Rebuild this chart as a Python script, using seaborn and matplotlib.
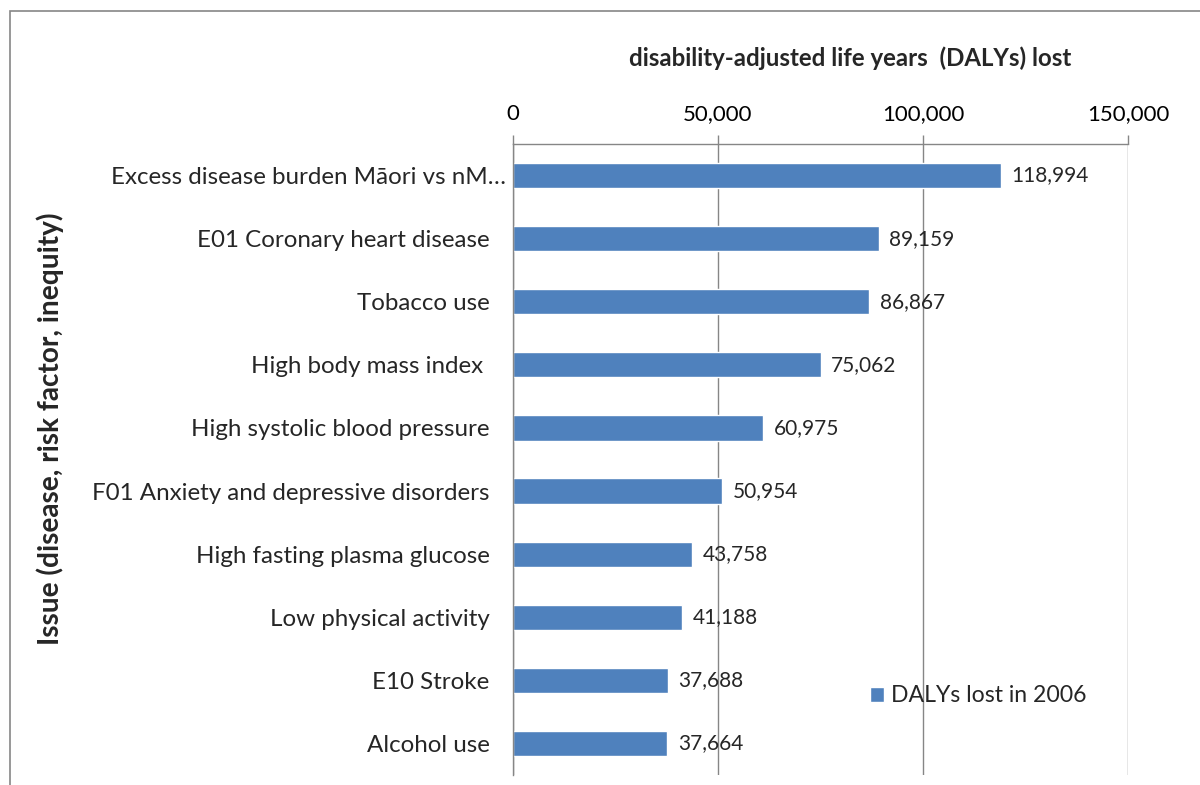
import numpy as np
import pandas as pd
import seaborn as sns
import matplotlib.pyplot as plt
import matplotlib.transforms as mtransforms
from matplotlib.patches import Rectangle
from matplotlib.ticker import FuncFormatter

issues = ['Excess disease burden Māori vs nM…', 'E01 Coronary heart disease', 'Tobacco use',
          'High body mass index ', 'High systolic blood pressure', 'F01 Anxiety and depressive disorders',
          'High fasting plasma glucose', 'Low physical activity', 'E10 Stroke', 'Alcohol use']
dalys = [118994, 89159, 86867, 75062, 60975, 50954, 43758, 41188, 37688, 37664]
x_ticks = [0, 50000, 100000, 150000]

sns.set_style('white')
plt.rcParams['font.family'] = ['Lato', 'DejaVu Sans']

df = pd.DataFrame({'issue': issues, 'dalys': dalys})
bar_color = '#4F81BD'
grid_color = '#868686'

fig = plt.figure(figsize=(12, 7.85), dpi=100)
ax = fig.add_axes([513 / 1200, 1 - 775 / 785, (1128 - 513) / 1200, (775 - 144) / 785])

sns.barplot(data=df, x='dalys', y='issue', orient='h', color=bar_color, saturation=1,
            width=0.4, label='DALYs lost in 2006', ax=ax)

ax.set_xlim(0, 150000)
ax.set_ylim(len(issues) - 0.5, -0.5)
ax.xaxis.tick_top()
ax.set_xticks(x_ticks)
ax.xaxis.set_major_formatter(FuncFormatter(lambda v, p: '{:,.0f}'.format(v)))
ax.tick_params(axis='x', direction='out', length=6.5, width=1, color=grid_color,
               labelsize=16, pad=8, labelcolor='black')
ax.set_yticks(np.arange(len(issues) + 1) - 0.5, minor=True)
ax.tick_params(axis='y', which='minor', direction='out', length=5, width=1, color=grid_color)
ax.tick_params(axis='y', which='major', length=0, labelsize=17.4, pad=17)
ax.grid(axis='x', color=grid_color, linewidth=1)
ax.set_axisbelow(True)

# the truncated first label sits a little further right in the original
first = ax.get_yticklabels()[0]
first.set_transform(first.get_transform() + mtransforms.ScaledTranslation(0.17, 0, fig.dpi_scale_trans))

for side in ['right', 'bottom']:
    ax.spines[side].set_visible(False)
for side in ['top', 'left']:
    ax.spines[side].set_color(grid_color)
    ax.spines[side].set_linewidth(1)

ax.set_xlabel('')
ax.set_ylabel('')

for i, v in enumerate(dalys):
    ax.annotate('{:,}'.format(v), xy=(v, i), xytext=(7.5, 0), textcoords='offset points',
                va='center', ha='left', fontsize=15)

fig.text(850 / 1200, 1 - 58 / 785, 'disability-adjusted life years  (DALYs) lost',
         ha='center', va='center', fontsize=17.3, fontweight='bold')
fig.text(50 / 1200, 1 - 429 / 785, 'Issue (disease, risk factor, inequity)',
         ha='center', va='center', rotation=90, fontsize=20.2, fontweight='bold')

handles, labels = ax.get_legend_handles_labels()
ax.legend(handles, labels, loc='center left', bbox_to_anchor=(870 / 1200, 1 - 696 / 785),
          bbox_transform=fig.transFigure, frameon=False, fontsize=16.6, borderpad=0,
          borderaxespad=0, handlelength=0.62, handleheight=0.62, handletextpad=0.3)

fig.add_artist(Rectangle((10 / 1200, -0.1), 2, 1 - 11 / 785 + 0.1, transform=fig.transFigure,
                         fill=False, edgecolor=grid_color, linewidth=1.2))

fig.savefig('out.png', dpi=100)
